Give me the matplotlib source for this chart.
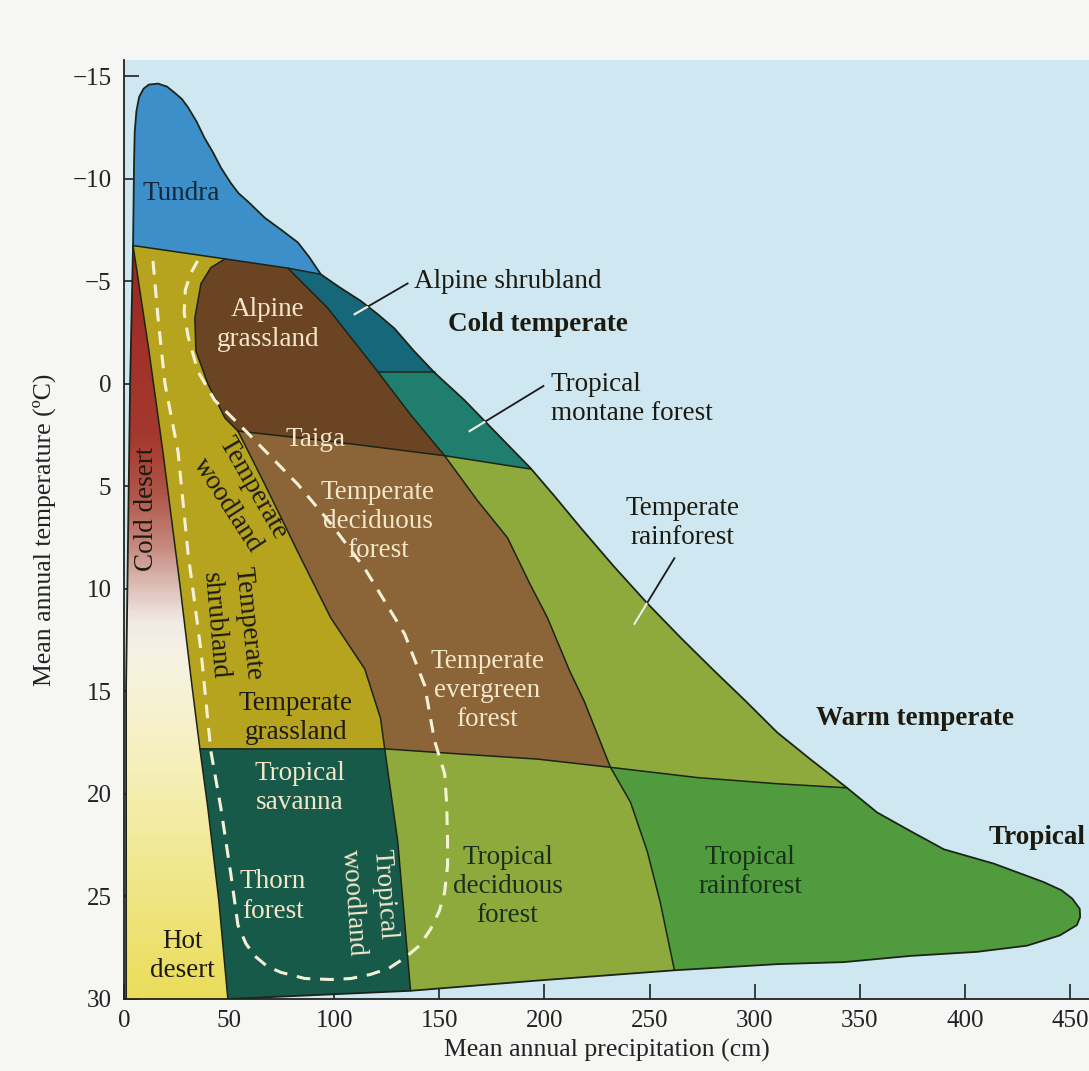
import numpy as np
import matplotlib
matplotlib.use('Agg')
import matplotlib.pyplot as plt
from matplotlib.patches import Polygon
from matplotlib.colors import LinearSegmentedColormap

plt.rcParams['font.family'] = ['Liberation Serif', 'DejaVu Serif']

# ---------------- data: biome boundaries (precipitation cm, temperature C) -------------
# outer envelope, left edge from bottom up
env_left = [(1, 30), (1, 14.7), (2.9, 0), (4.3, -6.75)]
# envelope top/right, clockwise from top-left of tundra
env_top = [(4.8, -10.9), (5.1, -12.3), (5.9, -13.3), (7.2, -14.0), (9.3, -14.4), (11.8, -14.6),
           (16.2, -14.65), (20.5, -14.5), (24.1, -14.2), (27.5, -13.9), (30.4, -13.5), (34.5, -12.8),
           (38.3, -12.0), (42.3, -11.3), (46.1, -10.55), (50.8, -9.8), (54.5, -9.3), (58.9, -8.9),
           (67, -8.1), (75, -7.5), (82.7, -6.9), (88, -6.2), (93.6, -5.35), (102, -4.75),
           (112.6, -4.05), (120.7, -3.4), (128.7, -2.7), (138, -1.6), (147.7, -0.55), (162, 0.8),
           (176.2, 2.3), (193.3, 4.1), (205, 5.5), (217.1, 7.0), (233, 8.9), (248.9, 10.7),
           (265, 12.4), (280.8, 14.0), (296, 15.5), (310.7, 17.0), (326.4, 18.3), (343.9, 19.7),
           (358.2, 20.9), (373.9, 21.8), (390, 22.7), (413.8, 23.4), (437.5, 24.3), (446, 24.7),
           (451, 25.1), (454.6, 25.6), (454.8, 26.0), (453.2, 26.4), (445.1, 26.9), (429.5, 27.4),
           (405.7, 27.7), (373.9, 27.9), (342.5, 28.2), (310.7, 28.3), (261.8, 28.6), (196.7, 29.1),
           (136.3, 29.6), (49.4, 30.0)]

tundra_line = [(4.3, -6.75), (48, -6.1), (77.9, -5.65), (93.6, -5.35)]
desert_line = [(4.3, -6.75), (11.9, -1.6), (18.5, 3.3), (26.6, 9.8), (32.3, 14.7), (36.1, 17.8),
               (39.9, 20.7), (45.1, 25.2), (49.4, 30)]
alpine_curve = [(48, -6.1), (41.3, -5.67), (36.6, -4.89), (33.7, -3.22), (34.2, -1.61),
                (39.9, 0), (48, 1.66), (54.2, 2.3)]
taiga_line = [(54.2, 2.3), (98.3, 2.8), (152.5, 3.5)]
grass_curve = [(54.2, 2.3), (67, 4.9), (82.7, 8.2), (98.3, 11.4), (114.5, 13.9), (122, 16.3), (124, 17.8)]
tropic_line_left = [(36.1, 17.8), (124, 17.8), (160, 18.05), (196.7, 18.3), (231.4, 18.7)]
tropic_line_right = [(231.4, 18.7), (272.7, 19.2), (310.7, 19.5), (343.9, 19.7)]
savanna_line = [(124, 17.8), (130.2, 22.3), (136.3, 29.6)]
decid_curve = [(152.5, 3.5), (168.2, 5.7), (182.4, 7.5), (193.3, 9.8), (201.4, 11.4), (212, 14.0),
               (219, 15.5), (231.4, 18.7)]
rain_curve = [(231.4, 18.7), (240.9, 20.4), (248.9, 22.8), (255.1, 25.3), (261.8, 28.6)]
shrub_line = [(77.9, -5.65), (96.9, -3.7), (120.7, -0.6)]
shrub_bottom = [(120.7, -0.6), (147.7, -0.6)]
montane_line = [(120.7, -0.6), (136.3, 1.5), (152.5, 3.5)]
montane_bottom = [(152.5, 3.5), (193.3, 4.15)]

# white dashed loop
dash_loop = [(13.8, -6.0), (16.2, -3.2), (19.5, 0), (25.7, 3.3), (30.4, 8.2), (36.6, 13.0),
             (41.3, 17.9), (46.1, 20.7), (50.8, 23.9), (54.2, 26.4), (58, 27.3), (62.2, 27.9),
             (68, 28.4), (74.6, 28.7), (86, 29.0), (98.3, 29.05), (108, 29.0), (117.3, 28.8),
             (126, 28.5), (133.5, 28.0), (140.5, 27.4), (145.8, 26.6), (150, 25.7), (152.5, 24.8),
             (153.9, 23.5), (153.9, 22.3), (153.5, 20.5), (152.5, 19.0), (147.7, 17.4), (143, 14.7),
             (133.5, 12.2), (114.5, 9.0), (98.3, 6.8), (82.7, 4.9), (58.9, 2.4), (43.2, 0.8),
             (35.2, -0.6), (30.5, -2.3), (28.6, -3.5), (29.2, -4.6), (31.8, -5.4), (35, -6.0)]

colors = dict(tundra='#3c8fc8', shrub='#17677a', montane='#1f7e6d', dbrown='#6b4423',
              lbrown='#8b6437', yellow='#b6a41f', savanna='#175a4a', ygreen='#8eaa3c',
              trainf='#4f9b3d', sky='#cfe7f1', page='#f6f6f4', line='#1c2418')

# ---------------- figure ----------------
fig = plt.figure(figsize=(10.89, 10.71), dpi=100, facecolor=colors['page'])
ax = fig.add_axes([124 / 1089, 1 - 999 / 1071, 1 - 124 / 1089, (999 - 60) / 1071])
ax.set_facecolor(colors['sky'])

env = env_left + env_top
env_patch = Polygon(env, closed=True, facecolor=colors['trainf'], edgecolor='none', zorder=1)
ax.add_patch(env_patch)

def region(pts, c, z):
    p = Polygon(pts, closed=True, facecolor=c, edgecolor='none', zorder=z)
    ax.add_patch(p)
    p.set_clip_path(env_patch)
    return p

region([(-20, -25), (500, -25), (500, 19.7)] + tropic_line_right[::-1] + rain_curve[1:]
       + [(262, 40), (-20, 40)], colors['ygreen'], 2)
region([(-20, -25), (152.5, -25)] + decid_curve + tropic_line_left[::-1][1:] + [(-20, 17.8)],
       colors['lbrown'], 3)
region([(-20, -25), (54.2, -25)] + grass_curve + [(-20, 17.8)], colors['yellow'], 4)
region([(48, -25)] + alpine_curve + taiga_line[1:] + [(300, 3.5), (300, -25)], colors['dbrown'], 5)
region([(120.7, -25)] + montane_line + montane_bottom[1:] + [(300, 4.3), (300, -25)],
       colors['montane'], 6)
region(shrub_line + [(300, -0.6), (300, -25), (77.9, -25)], colors['shrub'], 7)
region([(-20, -6.8)] + tundra_line + [(300, -5.3), (300, -25), (-20, -25)], colors['tundra'], 8)
region([(-20, 17.8), (124, 17.8)] + savanna_line[1:] + [(137, 40), (-20, 40)], colors['savanna'], 9)

# desert gradient
desert_poly = env_left + desert_line[1:]
dpatch = Polygon(desert_poly, closed=True, facecolor='none', edgecolor='none', zorder=10)
ax.add_patch(dpatch)
cmap = LinearSegmentedColormap.from_list('desert', [
    (0.0, '#9a2a24'), (0.25, '#a4382e'), (0.33, '#b0564a'), (0.40, '#c68a80'),
    (0.45, '#dcbcb4'), (0.50, '#f2ebe6'), (0.55, '#f7f3e2'), (0.70, '#f5efb8'),
    (0.85, '#f0e688'), (1.0, '#ebdd5a')])
grad = np.linspace(-6.75, 30, 300).reshape(-1, 1)
im = ax.imshow(grad, cmap=cmap, extent=(-1, 60, 30, -6.75), origin='upper', aspect='auto',
               vmin=-6.75, vmax=30, zorder=10, interpolation='bilinear')
im.set_clip_path(dpatch)

# boundary lines
for ln in [tundra_line, desert_line, alpine_curve, taiga_line, grass_curve, tropic_line_left,
           tropic_line_right, savanna_line, decid_curve, rain_curve, shrub_line, shrub_bottom,
           montane_line, montane_bottom]:
    xs, ys = zip(*ln)
    ax.plot(xs, ys, color=colors['line'], lw=1.1, zorder=12, solid_capstyle='round')
ex, ey = zip(*(env + [env[0]]))
ax.plot(ex, ey, color=colors['line'], lw=1.3, zorder=13)

dx, dy = zip(*dash_loop)
ax.plot(dx, dy, color='#f5f1d6', lw=2.2, ls=(0, (4.5, 3.2)), zorder=14)

# leader lines (dark outside, light inside)
leaders = [[(134.9, -4.9), (109.7, -3.4)], [(199.5, 0.1), (164.4, 2.3)], [(261.8, 8.5), (242.8, 11.7)]]
for ld in leaders:
    xs, ys = zip(*ld)
    ax.plot(xs, ys, color='#1a1a1a', lw=1.3, zorder=15)
    l2, = ax.plot(xs, ys, color='#eef2e6', lw=1.6, zorder=16)
    l2.set_clip_path(env_patch)

# labels
cream = '#f3e7c9'
dark = '#1d1a10'
fs = 19.5
def lab(x, y, s, c, rot=0, ha='center', weight='normal', size=fs):
    ax.text(x, y, s, color=c, rotation=rot, ha=ha, va='center', fontsize=size,
            fontweight=weight, linespacing=1.22, zorder=20, rotation_mode='anchor')

lab(27.1, -9.3, 'Tundra', '#13263a')
lab(68.4, -2.9, 'Alpine\ngrassland', cream)
lab(91.2, 2.7, 'Taiga', cream)
lab(120.7, 6.7, 'Temperate\ndeciduous\nforest', cream)
lab(172.9, 14.95, 'Temperate\nevergreen\nforest', cream)
lab(10.5, 6.1, 'Cold desert', dark, rot=90)
lab(61.3, 5.1, 'Temperate', dark, rot=-60)
lab(49.4, 5.9, 'woodland', dark, rot=-57)
lab(58.9, 11.7, 'Temperate', dark, rot=-84)
lab(43.1, 11.8, 'shrubland', dark, rot=-85)
lab(81.7, 16.3, 'Temperate\ngrassland', dark)
lab(83.6, 19.7, 'Tropical\nsavanna', cream)
lab(70.8, 25.0, 'Thorn\nforest', cream)
lab(123.8, 24.9, 'Tropical', cream, rot=-86)
lab(108.8, 25.3, 'woodland', cream, rot=-86)
lab(28.0, 27.9, 'Hot\ndesert', dark)
lab(182.4, 24.5, 'Tropical\ndeciduous\nforest', '#18301a')
lab(297.9, 23.8, 'Tropical\nrainforest', '#18301a')
lab(265.6, 6.8, 'Temperate\nrainforest', dark)
lab(182.4, -5.0, 'Alpine shrubland', dark)
lab(202.9, 0.73, 'Tropical\nmontane forest', dark, ha='left')
lab(196.7, -2.9, 'Cold temperate', dark, weight='bold')
lab(376.2, 16.3, 'Warm temperate', dark, weight='bold')
lab(434.2, 22.1, 'Tropical', dark, weight='bold')

# axes
xticks = [0, 50, 100, 150, 200, 250, 300, 350, 400, 450]
yticks = [-15, -10, -5, 0, 5, 10, 15, 20, 25, 30]
ax.set_xlim(0, 459)
ax.set_ylim(30, -15.8)
ax.set_xticks(xticks)
ax.set_xticklabels([str(v) for v in xticks])
ax.set_yticks(yticks)
ax.set_yticklabels([str(v).replace('-', '\u2212') for v in yticks])
ax.tick_params(direction='in', length=11, width=1.2, labelsize=18, colors='#222222')
ax.tick_params(axis='x', pad=8)
ax.tick_params(axis='y', pad=9)
for s in ['top', 'right']:
    ax.spines[s].set_visible(False)
for s in ['left', 'bottom']:
    ax.spines[s].set_linewidth(1.3)
    ax.spines[s].set_color('#222222')
ax.set_xlabel('Mean annual precipitation (cm)', fontsize=18.5, color='#222222', labelpad=5)
ax.set_ylabel('Mean annual temperature (\u00baC)', fontsize=18.5, color='#222222', labelpad=12)

fig.savefig('out.png', dpi=100, facecolor=fig.get_facecolor())
